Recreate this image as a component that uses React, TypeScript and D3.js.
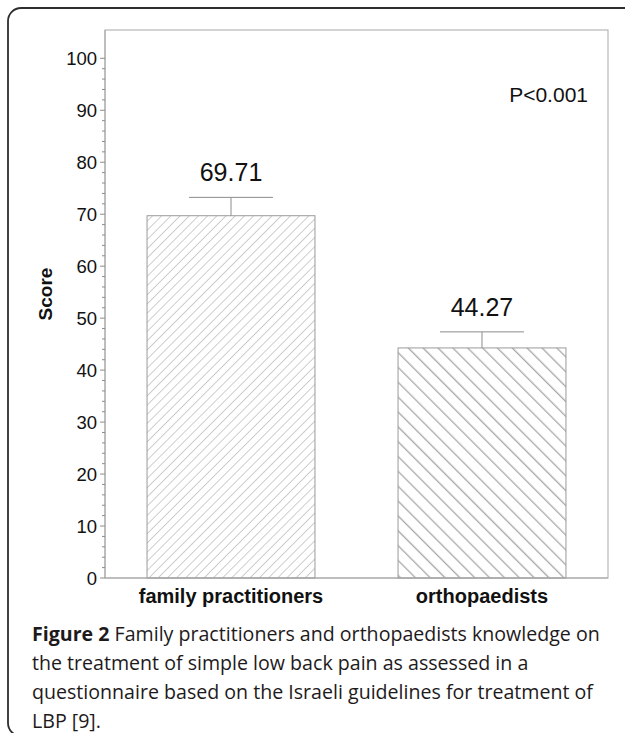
import React from "react";
import * as d3 from "d3";

// Knowledge scores (mean with standard error) for each physician group
const categories = ["family practitioners", "orthopaedists"];
const means = [69.71, 44.27];
const errors = [3.53, 3.09];
const yTicks = [0, 10, 20, 30, 40, 50, 60, 70, 80, 90, 100];
const minorTicks = d3.range(0, 101, 2).filter((v) => v % 10 !== 0);
const pLabel = "P<0.001";
const yLabel = "Score";
const captionBold = "Figure 2";
const captionLines = [
  " Family practitioners and orthopaedists knowledge on",
  "the treatment of simple low back pain as assessed in a",
  "questionnaire based on the Israeli guidelines for treatment of",
  "LBP [9].",
];

const W = 625;
const H = 733;
const plot = { left: 105, right: 608, top: 30, bottom: 578 };

export default function App() {
  const x = d3
    .scaleBand<string>()
    .domain(categories)
    .range([plot.left, plot.right])
    .paddingInner(0.331)
    .paddingOuter(0.1675);
  const y = d3.scaleLinear().domain([0, 100]).range([plot.bottom, 58.3]);
  const bw = x.bandwidth();
  const chartFont = "'Liberation Sans', Arial, sans-serif";
  const capFont = "'Open Sans', 'Noto Sans', sans-serif";
  const gray = "#9a9a9a";

  return (
    <svg
      width={W}
      height={H}
      style={{ position: "absolute", left: 0, top: 0, background: "#fff" }}
    >
      <defs>
        <pattern
          id="hatchFine"
          patternUnits="userSpaceOnUse"
          width={6.5}
          height={6.5}
          patternTransform="rotate(45)"
        >
          <line x1={0} y1={0} x2={0} y2={6.5} stroke="#9c9c9c" strokeWidth={1} />
        </pattern>
        <pattern
          id="hatchBold"
          patternUnits="userSpaceOnUse"
          width={10.5}
          height={10.5}
          patternTransform="rotate(-45)"
        >
          <line x1={0} y1={0} x2={0} y2={10.5} stroke="#a8a8a8" strokeWidth={2.6} />
        </pattern>
      </defs>

      {/* outer panel */}
      <rect
        x={8}
        y={8}
        width={700}
        height={728}
        rx={13}
        fill="none"
        stroke="#2e2e2e"
        strokeWidth={1.8}
      />

      {/* plot frame */}
      <rect
        x={plot.left}
        y={plot.top}
        width={plot.right - plot.left}
        height={plot.bottom - plot.top}
        fill="none"
        stroke="#a8a8a8"
        strokeWidth={1}
      />

      {/* bars */}
      {categories.map((c, i) => (
        <rect
          key={c}
          x={x(c)}
          y={y(means[i])}
          width={bw}
          height={y(0) - y(means[i])}
          fill={i === 0 ? "url(#hatchFine)" : "url(#hatchBold)"}
          stroke={gray}
          strokeWidth={1}
        />
      ))}

      {/* error bars */}
      {categories.map((c, i) => {
        const cx = (x(c) as number) + bw / 2;
        const top = y(means[i] + errors[i]);
        return (
          <g key={c} stroke="#8c8c8c" strokeWidth={1}>
            <line x1={cx} x2={cx} y1={y(means[i])} y2={top} />
            <line x1={cx - bw / 4} x2={cx + bw / 4} y1={top} y2={top} />
          </g>
        );
      })}

      {/* value labels */}
      {categories.map((c, i) => (
        <text
          key={c}
          x={(x(c) as number) + bw / 2}
          y={y(means[i] + errors[i]) - 16}
          textAnchor="middle"
          fontFamily={chartFont}
          fontSize={25}
          fill="#111"
        >
          {means[i].toFixed(2)}
        </text>
      ))}

      {/* y axis */}
      <line x1={plot.left} x2={plot.left} y1={plot.top} y2={plot.bottom} stroke="#a8a8a8" />
      <line x1={plot.left} x2={plot.right} y1={plot.bottom} y2={plot.bottom} stroke="#a8a8a8" />
      {yTicks.map((t) => (
        <g key={t}>
          <line x1={plot.left - 5} x2={plot.left} y1={y(t)} y2={y(t)} stroke="#8c8c8c" />
          <text
            x={plot.left - 8}
            y={y(t)}
            dy="0.36em"
            textAnchor="end"
            fontFamily={chartFont}
            fontSize={18.5}
            fill="#111"
          >
            {t}
          </text>
        </g>
      ))}
      {minorTicks.map((t) => (
        <line key={t} x1={plot.left - 3} x2={plot.left} y1={y(t)} y2={y(t)} stroke="#8c8c8c" />
      ))}
      <text
        transform={`translate(52, ${(plot.top + plot.bottom) / 2 - 10}) rotate(-90)`}
        textAnchor="middle"
        fontFamily={chartFont}
        fontSize={19}
        fontWeight="bold"
        fill="#111"
      >
        {yLabel}
      </text>

      {/* x labels */}
      {categories.map((c) => (
        <text
          key={c}
          x={(x(c) as number) + bw / 2}
          y={603}
          textAnchor="middle"
          fontFamily={chartFont}
          fontSize={20}
          fontWeight="bold"
          fill="#111"
        >
          {c}
        </text>
      ))}

      <text
        x={588}
        y={102}
        textAnchor="end"
        fontFamily={chartFont}
        fontSize={21}
        fill="#111"
      >
        {pLabel}
      </text>

      {/* caption */}
      {captionLines.map((line, i) => (
        <text
          key={i}
          x={32}
          y={641 + i * 29}
          fontFamily={capFont}
          fontSize={19.6}
          fill="#1e1a1b"
        >
          {i === 0 && <tspan fontWeight="bold">{captionBold}</tspan>}
          {line}
        </text>
      ))}
    </svg>
  );
}
